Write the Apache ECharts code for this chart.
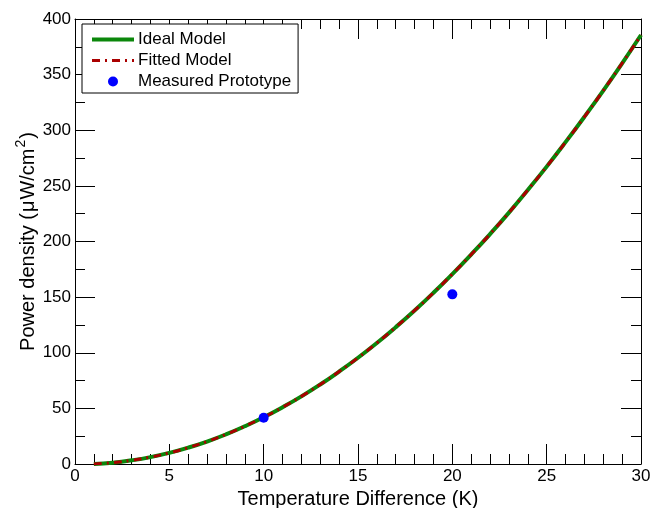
<!DOCTYPE html>
<html>
<head>
<meta charset="utf-8">
<script src="https://cdn.jsdelivr.net/npm/echarts@6/dist/echarts.min.js"></script>
<style>
html, body { margin: 0; padding: 0; background: #fff; }
#main { width: 651px; height: 508px; }
</style>
</head>
<body>
<div id="main"></div>
<script>
// 温差 (K)
var deltaT = [1, 2, 3, 4, 5, 6, 7, 8, 9, 10, 11, 12, 13, 14, 15, 16, 17, 18, 19, 20, 21, 22, 23, 24, 25, 26, 27, 28, 29, 30];
var idealY = [0, 1.2, 3.3, 6.2, 10.0, 14.7, 20.2, 26.6, 33.9, 42.0, 51.0, 60.8, 71.5, 83.1, 95.5, 108.8, 123.0, 138.0, 153.9, 170.7, 188.3, 206.7, 226.0, 246.3, 267.3, 289.3, 312.1, 335.7, 360.2, 385.6];
var fittedY = [0, 1.2, 3.3, 6.2, 10.0, 14.7, 20.2, 26.6, 33.9, 42.0, 51.0, 60.8, 71.5, 83.1, 95.5, 108.8, 123.0, 138.0, 153.9, 170.7, 188.3, 206.7, 226.0, 246.3, 267.3, 289.3, 312.1, 335.7, 360.2, 385.6];
var measuredX = [10, 20];
var measuredY = [41.6, 152.5];

function pairs(xs, ys) {
    var out = [];
    for (var i = 0; i < xs.length; i++) out.push([xs[i], ys[i]]);
    return out;
}

var myChart = echarts.init(document.getElementById('main'));
var fontName = 'Liberation Sans, Arial, sans-serif';

var boxAxis = {
    type: 'value',
    axisLine: { show: true, onZero: false, lineStyle: { color: '#000', width: 1 } },
    axisTick: { show: true, inside: true, length: 20, lineStyle: { color: '#000' } },
    minorTick: { show: true, length: 10, lineStyle: { color: '#000' } },
    axisLabel: { show: false },
    splitLine: { show: false },
    minorSplitLine: { show: false }
};

option = {
    backgroundColor: '#fff',
    animation: false,
    grid: { left: 75, right: 10, top: 19, bottom: 44, containLabel: false, outerBoundsMode: 'none' },
    legend: {
        orient: 'vertical',
        left: 82,
        top: 24,
        padding: [7, 7, 3, 8],
        itemWidth: 42,
        itemHeight: 10,
        itemGap: 4,
        borderColor: '#000',
        borderWidth: 1,
        backgroundColor: '#fff',
        textStyle: { fontFamily: fontName, fontSize: 17, color: '#000', padding: [0, 0, 0, -1] },
        data: [
            { name: 'Ideal Model', itemStyle: { opacity: 0 }, lineStyle: { width: 4 } },
            { name: 'Fitted Model', itemStyle: { opacity: 0 }, lineStyle: { width: 3 } },
            { name: 'Measured Prototype' }
        ]
    },
    xAxis: [
        echarts.util.merge({
            position: 'bottom',
            min: 0, max: 30, interval: 5,
            minorTick: { splitNumber: 5 },
            axisLabel: { show: true, color: '#000', fontFamily: fontName, fontSize: 17, margin: 4 },
            name: 'Temperature Difference (K)',
            nameLocation: 'middle',
            nameGap: 25,
            nameTextStyle: { color: '#000', fontFamily: fontName, fontSize: 20 }
        }, boxAxis, false),
        echarts.util.merge({
            position: 'top',
            min: 0, max: 30, interval: 5,
            minorTick: { splitNumber: 5 }
        }, boxAxis, false)
    ],
    yAxis: [
        echarts.util.merge({
            position: 'left',
            min: 0, max: 400, interval: 50,
            minorTick: { splitNumber: 2 },
            axisLabel: { show: true, color: '#000', fontFamily: fontName, fontSize: 17, margin: 4 },
            name: '{t|Power density (}{u|μ}{t|W/cm}{s|2}{t|)}',
            nameLocation: 'middle',
            nameGap: 37,
            nameMoveOverlap: false,
            nameTextStyle: {
                color: '#000', fontFamily: fontName, fontSize: 20,
                rich: {
                    t: { fontFamily: fontName, fontSize: 20, color: '#000', verticalAlign: 'bottom', lineHeight: 24 },
                    u: { fontFamily: fontName, fontSize: 20, color: '#000', verticalAlign: 'bottom', lineHeight: 24, padding: [0, 1, 0, 1] },
                    s: { fontFamily: fontName, fontSize: 14, color: '#000', verticalAlign: 'bottom', lineHeight: 24, padding: [0, 1, 10, 1] }
                }
            }
        }, boxAxis, false),
        echarts.util.merge({
            position: 'right',
            min: 0, max: 400, interval: 50,
            minorTick: { splitNumber: 2 }
        }, boxAxis, false)
    ],
    series: [
        {
            name: 'Ideal Model',
            type: 'line',
            smooth: true,
            symbol: 'none',
            data: pairs(deltaT, idealY),
            lineStyle: { color: '#0b870b', width: 4 },
            itemStyle: { color: '#0b870b' },
            z: 2
        },
        {
            name: 'Fitted Model',
            type: 'line',
            smooth: true,
            symbol: 'none',
            data: pairs(deltaT, fittedY),
            lineStyle: { color: '#aa0000', width: 3, type: [8, 5, 2, 5] },
            itemStyle: { color: '#aa0000' },
            z: 3
        },
        {
            name: 'Measured Prototype',
            type: 'scatter',
            symbol: 'circle',
            symbolSize: 10,
            data: pairs(measuredX, measuredY),
            itemStyle: { color: '#0000ff', opacity: 1 },
            z: 4
        }
    ]
};

myChart.setOption(option, true);
</script>
</body>
</html>
